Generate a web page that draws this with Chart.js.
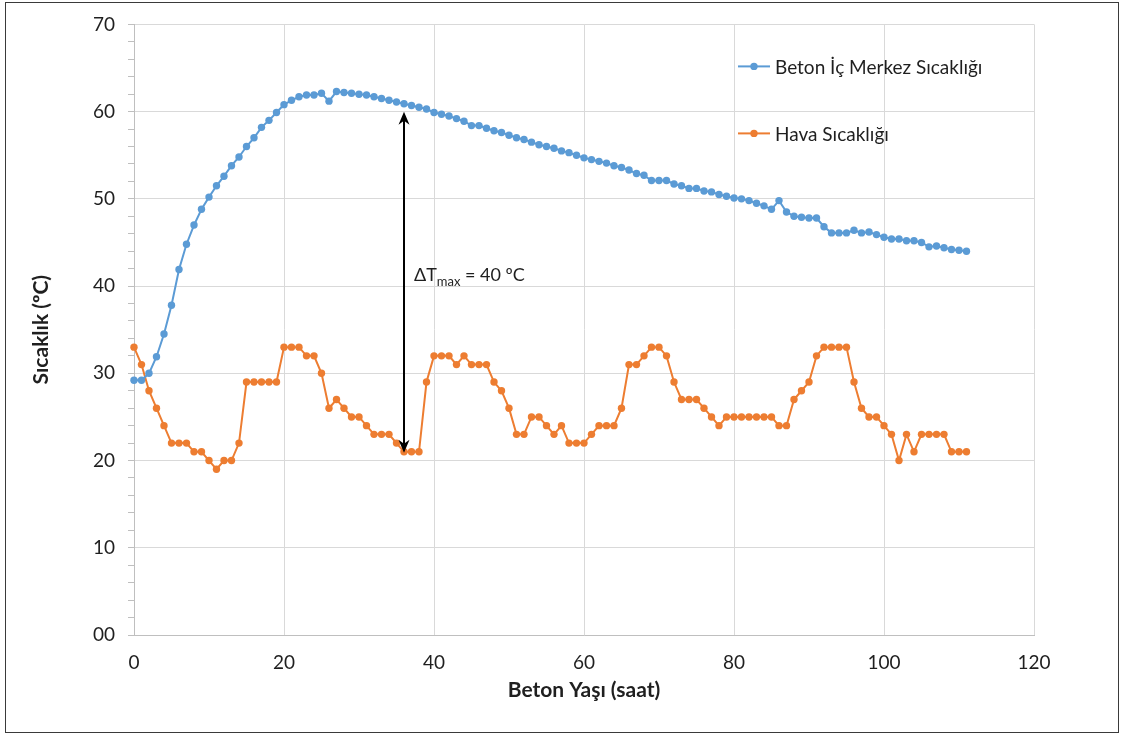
<!DOCTYPE html>
<html lang="tr">
<head>
<meta charset="utf-8">
<title>Beton Sıcaklığı</title>
<script src="https://cdn.jsdelivr.net/npm/chart.js@4.4.1/dist/chart.umd.min.js"></script>
<style>
  html, body { margin:0; padding:0; background:#fff; }
  #kutu { position:relative; width:1121px; height:735px; }
  #cerceve { position:absolute; left:5px; top:2px; width:1114px; height:731px; border:1.5px solid #3a3a3a; box-sizing:border-box; pointer-events:none; }
</style>
</head>
<body>
<div id="kutu">
  <canvas id="grafik" width="1121" height="735"></canvas>
  <div id="cerceve"></div>
</div>
<script>
// Veriler (saatlik okumalar)
const saatler = [
  0, 1, 2, 3, 4, 5, 6, 7, 8, 9,
  10, 11, 12, 13, 14, 15, 16, 17, 18, 19,
  20, 21, 22, 23, 24, 25, 26, 27, 28, 29,
  30, 31, 32, 33, 34, 35, 36, 37, 38, 39,
  40, 41, 42, 43, 44, 45, 46, 47, 48, 49,
  50, 51, 52, 53, 54, 55, 56, 57, 58, 59,
  60, 61, 62, 63, 64, 65, 66, 67, 68, 69,
  70, 71, 72, 73, 74, 75, 76, 77, 78, 79,
  80, 81, 82, 83, 84, 85, 86, 87, 88, 89,
  90, 91, 92, 93, 94, 95, 96, 97, 98, 99,
  100, 101, 102, 103, 104, 105, 106, 107, 108, 109,
  110, 111
];

const betonIc = [
  29.2, 29.2, 30.0, 31.9, 34.5, 37.8, 41.9, 44.8, 47.0, 48.8,
  50.2, 51.5, 52.6, 53.8, 54.8, 56.0, 57.0, 58.2, 59.0, 59.9,
  60.8, 61.3, 61.7, 61.9, 61.9, 62.1, 61.2, 62.3, 62.2, 62.1,
  62.0, 61.9, 61.7, 61.5, 61.3, 61.1, 60.9, 60.7, 60.5, 60.3,
  59.9, 59.7, 59.5, 59.2, 58.9, 58.4, 58.4, 58.1, 57.8, 57.6,
  57.3, 57.0, 56.8, 56.5, 56.2, 56.0, 55.8, 55.5, 55.3, 55.0,
  54.7, 54.5, 54.3, 54.1, 53.8, 53.6, 53.3, 52.9, 52.7, 52.1,
  52.1, 52.1, 51.7, 51.5, 51.2, 51.2, 50.9, 50.8, 50.5, 50.3,
  50.1, 50.0, 49.8, 49.5, 49.2, 48.8, 49.8, 48.5, 48.0, 47.9,
  47.8, 47.8, 46.8, 46.1, 46.1, 46.1, 46.4, 46.1, 46.2, 45.9,
  45.6, 45.4, 45.4, 45.2, 45.2, 45.0, 44.5, 44.6, 44.4, 44.2,
  44.1, 44.0
];

const hava = [
  33, 31, 28, 26, 24, 22, 22, 22, 21, 21,
  20, 19, 20, 20, 22, 29, 29, 29, 29, 29,
  33, 33, 33, 32, 32, 30, 26, 27, 26, 25,
  25, 24, 23, 23, 23, 22, 21, 21, 21, 29,
  32, 32, 32, 31, 32, 31, 31, 31, 29, 28,
  26, 23, 23, 25, 25, 24, 23, 24, 22, 22,
  22, 23, 24, 24, 24, 26, 31, 31, 32, 33,
  33, 32, 29, 27, 27, 27, 26, 25, 24, 25,
  25, 25, 25, 25, 25, 25, 24, 24, 27, 28,
  29, 32, 33, 33, 33, 33, 29, 26, 25, 25,
  24, 23, 20, 23, 21, 23, 23, 23, 23, 21,
  21, 21
];

const xTikleri = [0, 20, 40, 60, 80, 100, 120];
const yEtiketleri = ['00', '10', '20', '30', '40', '50', '60', '70'];
const seriAdlari = ['Beton İç Merkez Sıcaklığı', 'Hava Sıcaklığı'];
const okSaati = 36;

const MAVI = '#5B9BD5';
const TURUNCU = '#ED7D31';
const YAZI = '#1f1f1f';
const FONT = 'Lato, "Open Sans", sans-serif';

// Lejant, ok ve ΔT yazısı
const ekler = {
  id: 'ekler',
  afterDatasetsDraw(chart){
    const { ctx, chartArea: ca, scales: { x, y } } = chart;
    ctx.save();

    // lejant
    const renkler = [MAVI, TURUNCU];
    const satirY = [ca.top + 42, ca.top + 109];
    ctx.font = '19px ' + FONT;
    ctx.textBaseline = 'middle';
    seriAdlari.forEach((ad, i) => {
      const x0 = ca.left + 604;
      ctx.strokeStyle = renkler[i];
      ctx.lineWidth = 2;
      ctx.beginPath();
      ctx.moveTo(x0, satirY[i]);
      ctx.lineTo(x0 + 32, satirY[i]);
      ctx.stroke();
      ctx.fillStyle = renkler[i];
      ctx.beginPath();
      ctx.arc(x0 + 16, satirY[i], 3.7, 0, Math.PI * 2);
      ctx.fill();
      ctx.fillStyle = YAZI;
      ctx.fillText(ad, x0 + 37, satirY[i] + 1);
    });

    // çift yönlü ok
    const i = saatler.indexOf(okSaati);
    const ax = x.getPixelForValue(okSaati);
    const ust = y.getPixelForValue(betonIc[i]) + 8;
    const alt = y.getPixelForValue(hava[i]) + 1;
    ctx.strokeStyle = '#000';
    ctx.fillStyle = '#000';
    ctx.lineWidth = 2;
    ctx.beginPath();
    ctx.moveTo(ax, ust + 8);
    ctx.lineTo(ax, alt - 8);
    ctx.stroke();
    const ucCiz = (uy, yon) => {
      ctx.beginPath();
      ctx.moveTo(ax, uy);
      ctx.lineTo(ax - 5.5, uy + yon * 13);
      ctx.lineTo(ax, uy + yon * 9);
      ctx.lineTo(ax + 5.5, uy + yon * 13);
      ctx.closePath();
      ctx.fill();
    };
    ucCiz(ust, 1);
    ucCiz(alt, -1);

    // ΔTmax yazısı
    let tx = ax + 10;
    const ty = y.getPixelForValue(40) - 5;
    ctx.textBaseline = 'alphabetic';
    ctx.fillStyle = YAZI;
    ctx.font = '18px ' + FONT;
    ctx.fillText('ΔT', tx, ty);
    tx += ctx.measureText('ΔT').width;
    ctx.font = '13px ' + FONT;
    ctx.fillText('max', tx, ty + 5);
    tx += ctx.measureText('max').width;
    ctx.font = '18px ' + FONT;
    ctx.fillText(' = 40 ºC', tx, ty);

    ctx.restore();
  }
};

const ctx = document.getElementById('grafik').getContext('2d');
new Chart(ctx, {
  type: 'line',
  data: {
    datasets: [
      {
        label: seriAdlari[0],
        data: saatler.map((s, k) => ({ x: s, y: betonIc[k] })),
        borderColor: MAVI,
        backgroundColor: MAVI,
        borderWidth: 2,
        pointRadius: 3.7,
        pointBorderWidth: 0,
        pointBackgroundColor: MAVI,
        tension: 0,
        clip: false
      },
      {
        label: seriAdlari[1],
        data: saatler.map((s, k) => ({ x: s, y: hava[k] })),
        borderColor: TURUNCU,
        backgroundColor: TURUNCU,
        borderWidth: 2,
        pointRadius: 3.7,
        pointBorderWidth: 0,
        pointBackgroundColor: TURUNCU,
        tension: 0,
        clip: false
      }
    ]
  },
  options: {
    responsive: false,
    animation: false,
    layout: { padding: { top: 22, right: 87, left: 0, bottom: 0 } },
    plugins: {
      legend: { display: false },
      tooltip: { enabled: false }
    },
    scales: {
      x: {
        type: 'linear',
        min: 0,
        max: 120,
        afterBuildTicks: (s) => { s.ticks = xTikleri.map(v => ({ value: v })); },
        afterFit: (s) => { s.height = 100; },
        grid: { color: '#d9d9d9', drawTicks: false },
        border: { color: '#bfbfbf', width: 1 },
        ticks: { color: YAZI, font: { family: FONT, size: 19 }, padding: 16, maxRotation: 0 },
        title: {
          display: true,
          text: 'Beton Yaşı (saat)',
          color: YAZI,
          font: { family: FONT, size: 21, weight: 'bold' },
          padding: { top: 0, bottom: 32 }
        }
      },
      y: {
        min: 0,
        max: 70,
        afterFit: (s) => { s.width = 134; },
        grid: {
          color: (c) => (c.tick && c.tick.value % 10 === 0) ? '#d9d9d9' : 'rgba(0,0,0,0)',
          tickColor: '#bfbfbf',
          tickLength: 6
        },
        border: { color: '#bfbfbf', width: 1 },
        ticks: {
          stepSize: 2,
          autoSkip: false,
          color: YAZI,
          font: { family: FONT, size: 19 },
          padding: 13,
          callback: (v) => (v % 10 === 0) ? yEtiketleri[v / 10] : ''
        },
        title: {
          display: true,
          text: 'Sıcaklık (ºC)',
          color: YAZI,
          font: { family: FONT, size: 21, weight: 'bold' },
          padding: { top: 29, bottom: 0 }
        }
      }
    }
  },
  plugins: [ekler]
});
</script>
</body>
</html>
